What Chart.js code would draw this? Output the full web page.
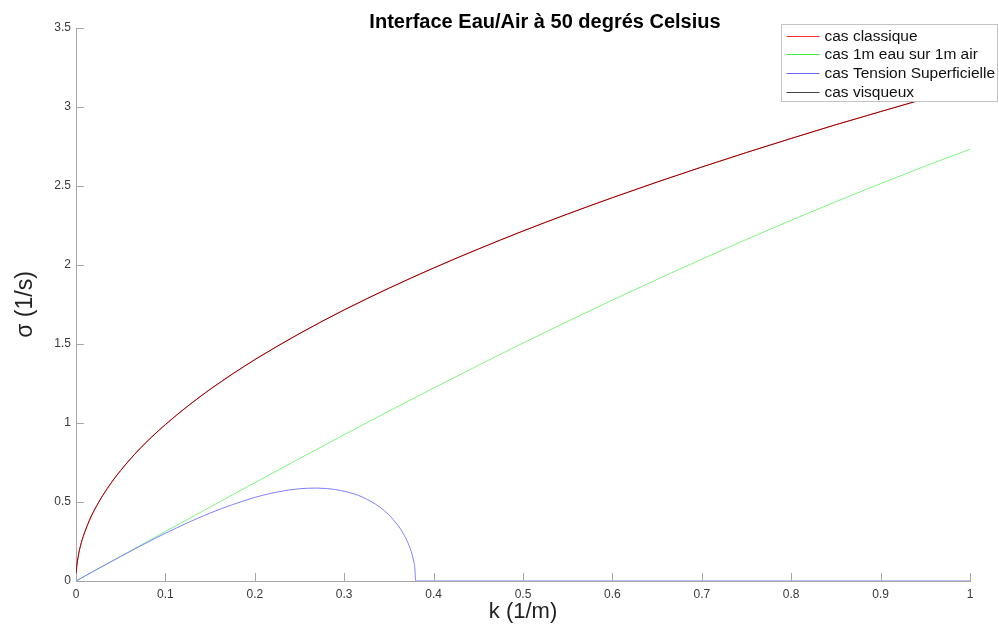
<!DOCTYPE html>
<html>
<head>
<meta charset="utf-8">
<script src="https://cdn.jsdelivr.net/npm/chart.js@4.4.1/dist/chart.umd.min.js"></script>
<style>
  html, body { margin: 0; padding: 0; background: #fff; }
  canvas { display: block; }
</style>
</head>
<body>
<canvas id="chart" width="999" height="627"></canvas>
<script>
'use strict';

// k values (1/m) and sigma values (1/s)
var kClassique   = [0, 0.0002, 0.0005, 0.001, 0.003, 0.006, 0.01, 0.015, 0.02, 0.03, 0.04, 0.05, 0.07, 0.085, 0.1, 0.125, 0.15, 0.175, 0.2, 0.25, 0.3, 0.35, 0.4, 0.45, 0.5, 0.55, 0.6, 0.65, 0.7, 0.75, 0.8, 0.85, 0.9, 0.95, 1];
var sigClassique = [0, 0.044, 0.070, 0.099, 0.172, 0.243, 0.313, 0.384, 0.443, 0.542, 0.626, 0.700, 0.829, 0.913, 0.990, 1.107, 1.213, 1.310, 1.401, 1.566, 1.716, 1.853, 1.981, 2.101, 2.215, 2.323, 2.426, 2.525, 2.620, 2.712, 2.801, 2.888, 2.971, 3.053, 3.132];

var kEauAir   = [0, 0.05, 0.1, 0.15, 0.2, 0.25, 0.3, 0.35, 0.4, 0.45, 0.5, 0.55, 0.6, 0.65, 0.7, 0.75, 0.8, 0.85, 0.9, 0.95, 1];
var sigEauAir = [0, 0.157, 0.313, 0.468, 0.622, 0.775, 0.926, 1.075, 1.221, 1.365, 1.506, 1.643, 1.778, 1.909, 2.037, 2.162, 2.283, 2.401, 2.515, 2.626, 2.733];

var kTension   = [0, 0.02, 0.05, 0.1, 0.15, 0.2, 0.225, 0.25, 0.27, 0.29, 0.3, 0.31, 0.32, 0.33, 0.34, 0.35, 0.36, 0.365, 0.37, 0.375, 0.378, 0.379, 0.38, 1];
var sigTension = [0, 0.063, 0.155, 0.302, 0.430, 0.529, 0.563, 0.584, 0.588, 0.579, 0.568, 0.553, 0.532, 0.503, 0.467, 0.419, 0.353, 0.311, 0.258, 0.186, 0.119, 0.084, 0, 0];

var kVisqueux   = [0, 0.0002, 0.0005, 0.001, 0.003, 0.006, 0.01, 0.015, 0.02, 0.03, 0.04, 0.05, 0.07, 0.085, 0.1, 0.125, 0.15, 0.175, 0.2, 0.25, 0.3, 0.35, 0.4, 0.45, 0.5, 0.55, 0.6, 0.65, 0.7, 0.75, 0.8, 0.85, 0.9, 0.95, 1];
var sigVisqueux = [0, 0.044, 0.070, 0.099, 0.172, 0.243, 0.313, 0.384, 0.443, 0.542, 0.626, 0.700, 0.829, 0.913, 0.990, 1.107, 1.213, 1.310, 1.401, 1.566, 1.716, 1.853, 1.981, 2.101, 2.215, 2.323, 2.426, 2.525, 2.620, 2.712, 2.801, 2.888, 2.971, 3.053, 3.132];

var seriesLabels = ['cas classique', 'cas 1m eau sur 1m air', 'cas Tension Superficielle', 'cas visqueux'];
var legendColors = ['#ff3030', '#40f040', '#6868ff', '#444444'];
var titleText = 'Interface Eau/Air \u00e0 50 degr\u00e9s Celsius';
var xTitle = 'k (1/m)';
var yTitle = '\u03c3 (1/s)';

var axisColor = '#a8a8a8';
var textColor = '#3a3a3a';

function points(ks, vals) {
    return ks.map(function (k, i) { return { x: k, y: vals[i] }; });
}

function fmt(v) {
    return String(+(+v).toFixed(2));
}

// MATLAB style ticks pointing inside the axes
var innerTicks = {
    id: 'innerTicks',
    afterDatasetsDraw: function (chart) {
        var ctx = chart.ctx, area = chart.chartArea;
        var xs = chart.scales.x, ys = chart.scales.y;
        var len = 8;
        ctx.save();
        ctx.strokeStyle = axisColor;
        ctx.lineWidth = 1;
        ctx.beginPath();
        xs.ticks.forEach(function (t) {
            var px = Math.round(xs.getPixelForValue(t.value)) + 0.5;
            ctx.moveTo(px, area.bottom);
            ctx.lineTo(px, area.bottom - len);
        });
        ys.ticks.forEach(function (t) {
            var py = Math.round(ys.getPixelForValue(t.value)) + 0.5;
            ctx.moveTo(area.left, py);
            ctx.lineTo(area.left + len, py);
        });
        ctx.stroke();
        ctx.restore();
    }
};

// title and boxed legend drawn over the plot, as in the figure
var overlay = {
    id: 'overlay',
    afterDraw: function (chart) {
        var ctx = chart.ctx, area = chart.chartArea;
        ctx.save();
        ctx.fillStyle = '#000';
        ctx.font = 'bold 20px "Liberation Sans", Arial, sans-serif';
        ctx.textAlign = 'center';
        ctx.textBaseline = 'alphabetic';
        ctx.fillText(titleText, (area.left + area.right) / 2 + 22, 28);

        var bx = area.right - 188.5, by = area.top - 3.5, bw = 216, bh = 77;
        ctx.fillStyle = '#fff';
        ctx.fillRect(bx, by, bw, bh);
        ctx.strokeStyle = '#c4c4c4';
        ctx.lineWidth = 1;
        ctx.strokeRect(bx, by, bw, bh);

        ctx.font = '15.5px "Liberation Sans", Arial, sans-serif';
        ctx.textAlign = 'left';
        ctx.textBaseline = 'middle';
        chart.data.datasets.forEach(function (ds, i) {
            var y = Math.round(by + 11 + i * 18.7) + 0.5;
            ctx.strokeStyle = legendColors[i];
            ctx.lineWidth = 1.2;
            ctx.beginPath();
            ctx.moveTo(bx + 5, y);
            ctx.lineTo(bx + 38, y);
            ctx.stroke();
            ctx.fillStyle = '#111';
            ctx.fillText(ds.label, bx + 43, y + 0.5);
        });
        ctx.restore();
    }
};

var lineDefaults = {
    borderWidth: 1,
    pointRadius: 0,
    fill: false,
    cubicInterpolationMode: 'monotone'
};

var datasets = [
    Object.assign({
        label: seriesLabels[0],
        data: points(kClassique, sigClassique),
        borderColor: '#ff0000',
        order: 4
    }, lineDefaults),
    Object.assign({
        label: seriesLabels[1],
        data: points(kEauAir, sigEauAir),
        borderColor: '#7ef57e',
        order: 3
    }, lineDefaults),
    Object.assign({
        label: seriesLabels[2],
        data: points(kTension, sigTension),
        borderColor: '#7f7fff',
        order: 2
    }, lineDefaults),
    Object.assign({
        label: seriesLabels[3],
        data: points(kVisqueux, sigVisqueux),
        borderColor: 'rgba(60, 0, 0, 0.55)',
        order: 1
    }, lineDefaults)
];

var ctx = document.getElementById('chart').getContext('2d');

var myChart = new Chart(ctx, {
    type: 'line',
    data: { datasets: datasets },
    plugins: [innerTicks, overlay],
    options: {
        responsive: false,
        animation: false,
        devicePixelRatio: 1,
        layout: { padding: { left: 0, right: 29, top: 28, bottom: 0 } },
        plugins: {
            legend: { display: false },
            title: { display: false },
            tooltip: { enabled: false }
        },
        scales: {
            x: {
                type: 'linear',
                min: 0,
                max: 1,
                afterFit: function (scale) { scale.height = 46; },
                grid: { display: false, drawTicks: false },
                border: { display: true, color: axisColor, width: 1 },
                ticks: {
                    stepSize: 0.1,
                    padding: 6,
                    maxRotation: 0,
                    color: textColor,
                    font: { family: '"Liberation Sans", Arial, sans-serif', size: 12 },
                    callback: fmt
                },
                title: {
                    display: true,
                    text: xTitle,
                    color: '#222',
                    padding: { top: 0, bottom: 2 },
                    font: { family: '"Liberation Sans", Arial, sans-serif', size: 22 }
                }
            },
            y: {
                type: 'linear',
                min: 0,
                max: 3.5,
                afterFit: function (scale) { scale.width = 76; },
                grid: { display: false, drawTicks: false },
                border: { display: true, color: axisColor, width: 1 },
                ticks: {
                    stepSize: 0.5,
                    padding: 5,
                    color: textColor,
                    font: { family: '"Liberation Sans", Arial, sans-serif', size: 12 },
                    callback: fmt
                },
                title: {
                    display: true,
                    text: yTitle,
                    color: '#222',
                    padding: { top: 12, bottom: 0 },
                    font: { family: '"Liberation Sans", Arial, sans-serif', size: 23 }
                }
            }
        }
    }
});
</script>
</body>
</html>
